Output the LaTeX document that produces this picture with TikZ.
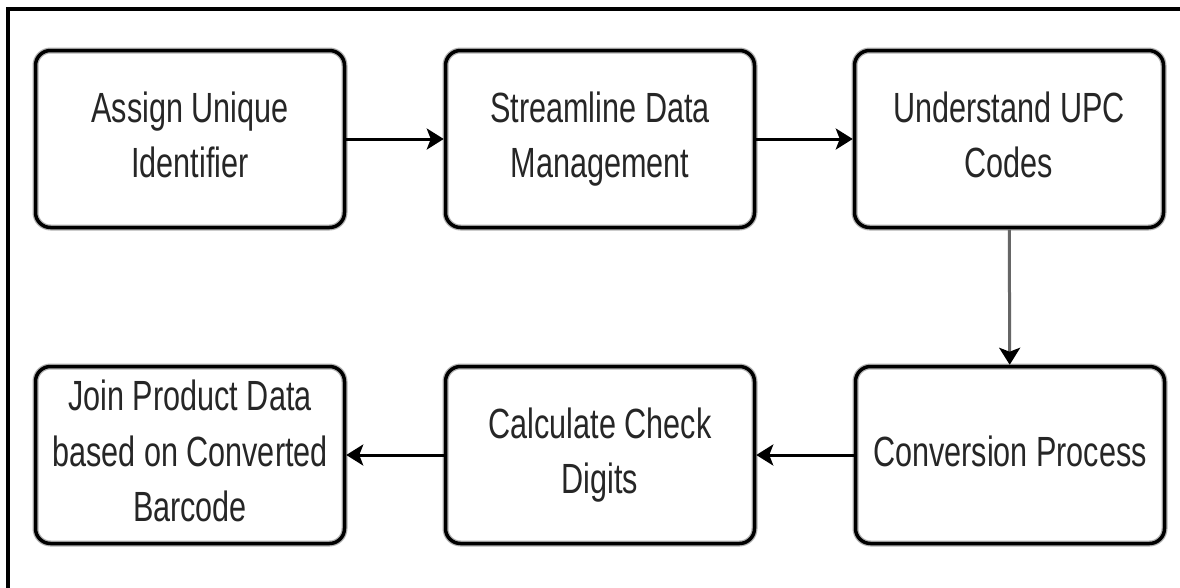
\documentclass[tikz,border=0pt]{standalone}
\usepackage{fontspec}
\setmainfont{Liberation Sans}
\usetikzlibrary{arrows.meta}
\newcommand{\stretchtext}[1]{\scalebox{1}[1.38]{\begin{tabular}{@{}c@{}}#1\end{tabular}}}
\tikzset{
  stepbox/.style={draw=black, line width=3.5pt, rounded corners=15pt,
    minimum width=309pt, minimum height=177pt, inner sep=0pt,
    font=\fontsize{30.6}{40}\selectfont, text=black!85,
    preaction={draw=gray!60, line width=6pt}},
  flow/.style={-{Stealth[length=17pt,width=21pt,inset=4pt,black]}, line width=3pt, black},
  flowgray/.style={flow, draw=black!60}
}
\begin{document}
\begin{tikzpicture}[x=1pt,y=-1pt]
\useasboundingbox (0,0) rectangle (1180,587);
\fill[white] (0,0) rectangle (1180,587);
\draw[line width=4pt] (8,590) -- (8,9) -- (1180,9);
\node[stepbox] (a) at (190,139) {\stretchtext{Assign Unique\\Identifier}};
\node[stepbox] (b) at (600,139) {\stretchtext{Streamline Data\\Management}};
\node[stepbox] (c) at (1009,139) {\stretchtext{Understand UPC\\Codes}};
\node[stepbox] (d) at (1010,455) {\stretchtext{Conversion Process}};
\node[stepbox] (e) at (600,455) {\stretchtext{Calculate Check\\Digits}};
\node[stepbox] (f) at (190,455) {\stretchtext{Join Product Data\\based on Converted\\Barcode}};
\draw[flow] (a) -- (b);
\draw[flow] (b) -- (c);
\draw[flowgray] (c) -- (d);
\draw[flow] (d) -- (e);
\draw[flow] (e) -- (f);
\end{tikzpicture}
\end{document}
